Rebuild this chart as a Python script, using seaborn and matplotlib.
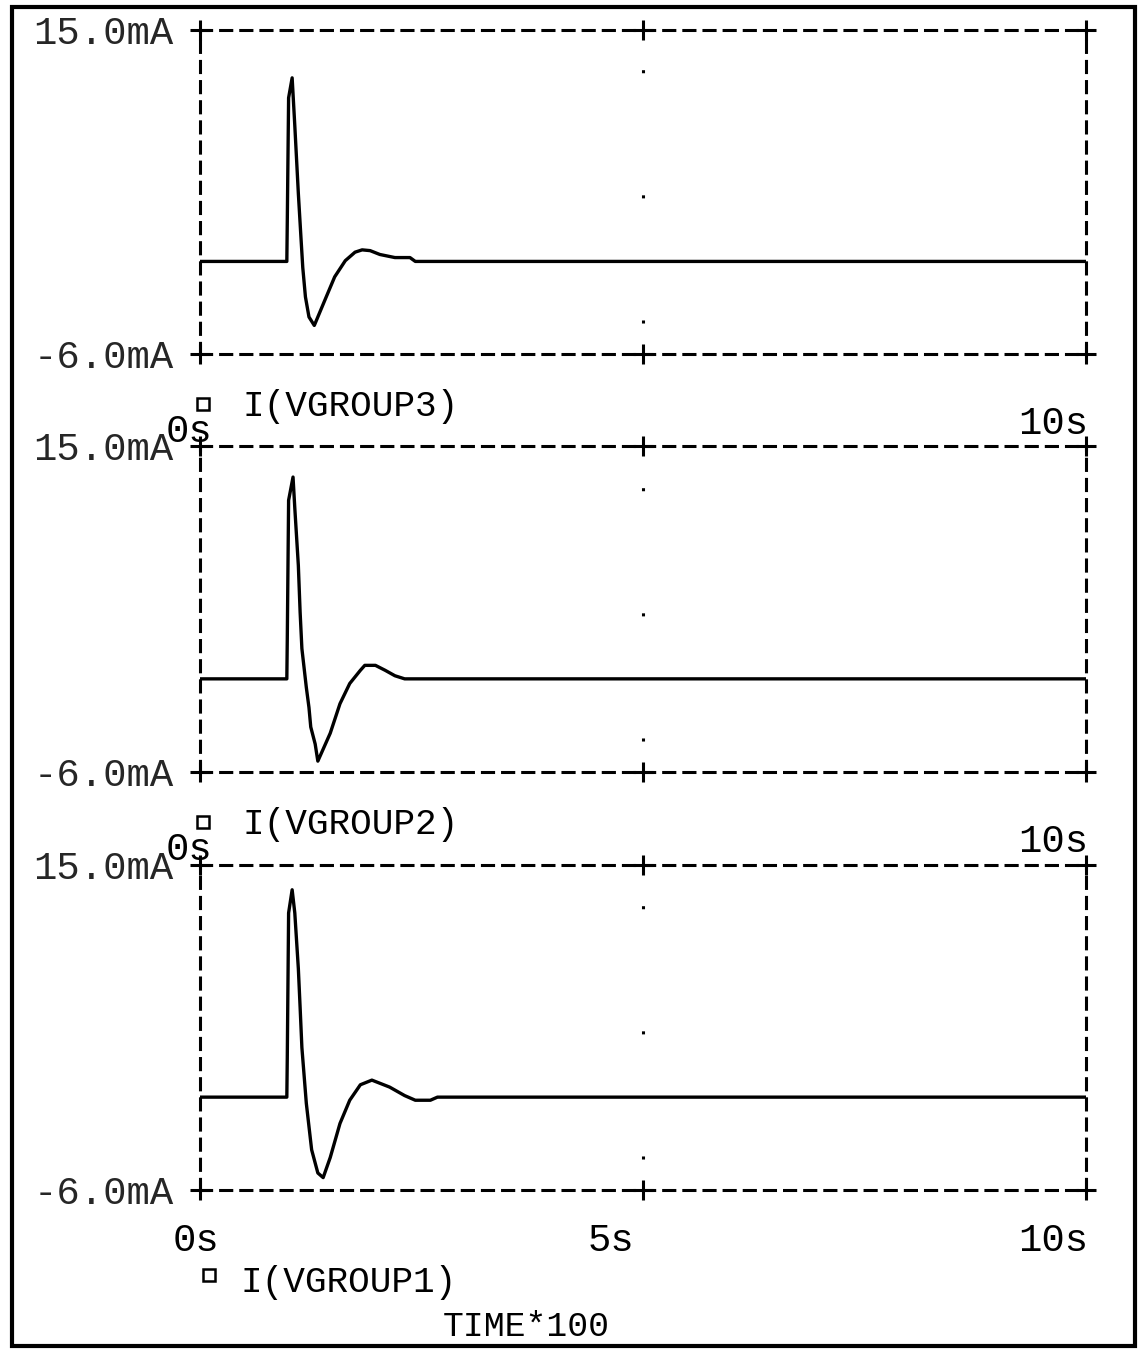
# tratamiento de datos
import numpy as np

# visualizaciones
import matplotlib.pyplot as plt
import seaborn as sns
from matplotlib.lines import Line2D
from matplotlib.patches import Rectangle

# corriente (tiempo en s, corriente en mA)
t_g3 = [0, 0.98, 0.985, 1.00, 1.04, 1.07, 1.11, 1.14, 1.16, 1.19, 1.23, 1.29,
        1.41, 1.52, 1.64, 1.75, 1.83, 1.92, 2.03, 2.20, 2.37, 2.43, 10]
i_g3 = [0, 0, 2.5, 10.6, 11.9, 8.8, 4.4, 1.5, -0.4, -2.3, -3.6, -4.15,
        -2.5, -1.0, 0.05, 0.6, 0.75, 0.7, 0.45, 0.25, 0.25, 0, 0]

t_g2 = [0, 0.98, 0.985, 1.00, 1.05, 1.07, 1.11, 1.13, 1.15, 1.20, 1.23, 1.25,
        1.30, 1.33, 1.47, 1.58, 1.69, 1.81, 1.86, 1.98, 2.09, 2.20, 2.31, 10]
i_g2 = [0, 0, 2.5, 11.5, 13.0, 11.0, 7.3, 4.3, 1.95, -0.55, -1.85, -3.1,
        -4.2, -5.3, -3.5, -1.6, -0.3, 0.55, 0.87, 0.87, 0.55, 0.2, 0, 0]

t_g1 = [0, 0.98, 0.985, 1.00, 1.04, 1.07, 1.11, 1.13, 1.15, 1.20, 1.23, 1.26,
        1.33, 1.39, 1.47, 1.58, 1.69, 1.81, 1.94, 2.14, 2.31, 2.43, 2.60, 2.68, 10]
i_g1 = [0, 0, 2.5, 11.9, 13.4, 11.9, 8.3, 5.8, 3.2, -0.4, -1.9, -3.4,
        -4.9, -5.2, -3.9, -1.7, -0.2, 0.8, 1.1, 0.65, 0.1, -0.2, -0.2, 0, 0]

series = ['I(VGROUP3)', 'I(VGROUP2)', 'I(VGROUP1)']
x_ticks = [0, 5, 10]
y_range = [-6, 15]
y_labels = ['-6.0mA', '15.0mA']
x_labels = ['0s', '5s', '10s']
x_title = 'TIME*100'

sns.set_style('white')
plt.rcParams['font.family'] = ['Liberation Mono', 'DejaVu Sans Mono']
plt.rcParams['lines.scale_dashes'] = False

W, H = 1139, 1350
fig = plt.figure(figsize=(W / 100, H / 100), dpi=100)


def caja(l, t, r, b):
    return [l / W, 1 - b / H, (r - l) / W, (b - t) / H]


def ftext(x, y, s, **kw):
    fig.text(x / W, 1 - y / H, s, color='black', **kw)


paneles = [(30, 354), (446, 772), (865, 1190)]
datos = [(t_g3, i_g3), (t_g2, i_g2), (t_g1, i_g1)]
guion = (0, (8, 6.5))

for k, ((top, bot), (t, i)) in enumerate(zip(paneles, datos)):
    ax = fig.add_axes(caja(200, top, 1086, bot))
    ax.set_facecolor('none')
    sns.lineplot(x=t, y=i, ax=ax, color='black', lw=2.4)
    ax.set_xlim(x_ticks[0], x_ticks[-1])
    ax.set_ylim(*y_range)

    for s in ax.spines.values():
        s.set_linestyle(guion)
        s.set_linewidth(2.2)
        s.set_color('black')

    # linea punteada central
    ax.axvline(x_ticks[1], color='black', lw=2.2, ls=(67.8, (2.2, 87.9)))

    # cruces en esquinas y centro
    xs = x_ticks * 2
    ys = [y_range[1]] * 3 + [y_range[0]] * 3
    ax.plot(xs, ys, ls='none', marker='+', ms=14, mew=2.2, color='black', clip_on=False)

    ax.set_xticks([])
    ax.set_yticks(y_range)
    ax.set_yticklabels(y_labels, fontsize=28)
    ax.tick_params(axis='y', length=0, pad=19)
    ax.set_xlabel('')
    ax.set_ylabel('')

    if k < 2:
        ftext(203, bot + 50, '', )
        fig.add_artist(Line2D([203 / W], [1 - (bot + 50) / H], marker='s', ms=8,
                              mfc='none', mec='black', mew=1.8, ls='none',
                              transform=fig.transFigure))
        ftext(243, bot + 52, series[k], fontsize=26, va='center', ha='left')
        ftext(166, bot + 78, x_labels[0], fontsize=28, va='center', ha='left')
        ftext(1088, bot + 70, x_labels[2], fontsize=28, va='center', ha='right')
    else:
        ftext(173, bot + 51, x_labels[0], fontsize=28, va='center', ha='left')
        ftext(588, bot + 51, x_labels[1], fontsize=28, va='center', ha='left')
        ftext(1088, bot + 51, x_labels[2], fontsize=28, va='center', ha='right')
        fig.add_artist(Line2D([209 / W], [1 - (bot + 85) / H], marker='s', ms=8,
                              mfc='none', mec='black', mew=1.8, ls='none',
                              transform=fig.transFigure))
        ftext(240, bot + 93, series[k], fontsize=26, va='center', ha='left')
        ftext(443, bot + 137, x_title, fontsize=25, va='center', ha='left')

# marco exterior
fig.add_artist(Rectangle((12 / W, 1 - 1346 / H), (1135 - 12) / W, (1346 - 7) / H,
                         transform=fig.transFigure, fill=False, lw=3, ec='black'))

fig.savefig('out.png', dpi=100, facecolor='white')
